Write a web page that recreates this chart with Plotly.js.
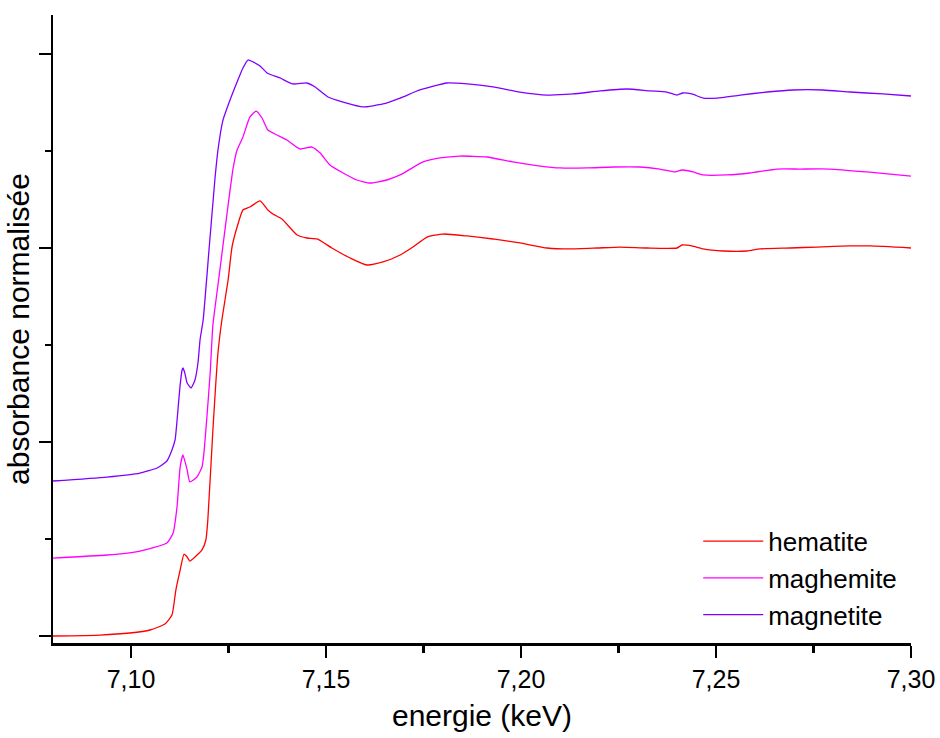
<!DOCTYPE html>
<html>
<head>
<meta charset="utf-8">
<script src="https://cdn.plot.ly/plotly-3.0.1.min.js"></script>
<style>html,body{margin:0;padding:0;background:#fff;}#chart{width:940px;height:738px;}</style>
</head>
<body>
<div id="chart"></div>
<script>
// Energy (keV) and normalised absorbance (offset curves)
const seriesNames = ["hematite", "maghemite", "magnetite"];
const seriesColors = ["#FF0000", "#FF00FF", "#8000FF"];

const hematiteX = [7.0800,7.0921,7.0997,7.1049,7.1087,7.1105,7.1115,7.1126,7.1136,7.1144,7.1151,7.1164,7.1182,7.1192,7.1197,7.1210,7.1223,7.1233,7.1249,7.1259,7.1272,7.1287,7.1305,7.1331,7.1351,7.1364,7.1387,7.1426,7.1451,7.1477,7.1515,7.1562,7.1605,7.1646,7.1690,7.1723,7.1759,7.1800,7.1862,7.1928,7.1997,7.2067,7.2126,7.2195,7.2254,7.2323,7.2400,7.2413,7.2438,7.2467,7.2518,7.2579,7.2613,7.2690,7.2759,7.2844,7.2895,7.3000];
const hematiteY = [0.000,0.010,0.031,0.062,0.124,0.216,0.474,0.680,0.845,0.814,0.773,0.814,0.887,0.990,1.196,2.124,2.918,3.258,3.670,4.010,4.216,4.392,4.423,4.485,4.392,4.351,4.299,4.134,4.103,4.093,4.000,3.897,3.825,3.856,3.928,4.010,4.113,4.144,4.124,4.093,4.052,4.000,3.990,4.000,4.010,4.000,4.000,4.031,4.021,3.990,3.969,3.969,3.990,4.000,4.010,4.021,4.021,4.000];

const maghemiteX = [7.0800,7.0938,7.1023,7.1092,7.1108,7.1118,7.1126,7.1133,7.1144,7.1151,7.1169,7.1182,7.1187,7.1195,7.1203,7.1210,7.1223,7.1236,7.1249,7.1262,7.1272,7.1287,7.1305,7.1321,7.1336,7.1351,7.1374,7.1400,7.1433,7.1464,7.1485,7.1510,7.1544,7.1579,7.1613,7.1656,7.1690,7.1749,7.1792,7.1844,7.1913,7.1979,7.2049,7.2100,7.2169,7.2236,7.2305,7.2356,7.2395,7.2413,7.2441,7.2467,7.2528,7.2587,7.2656,7.2715,7.2792,7.2887,7.3000];
const maghemiteY = [0.804,0.835,0.876,0.959,1.062,1.330,1.742,1.866,1.711,1.588,1.639,1.742,1.887,2.278,2.711,3.206,3.619,4.031,4.443,4.825,5.010,5.144,5.351,5.412,5.340,5.216,5.165,5.113,5.021,5.041,4.979,4.856,4.773,4.701,4.670,4.701,4.753,4.887,4.928,4.948,4.938,4.887,4.845,4.825,4.825,4.835,4.835,4.814,4.784,4.804,4.784,4.753,4.753,4.773,4.814,4.814,4.814,4.784,4.742];

const magnetiteX = [7.0800,7.0938,7.1023,7.1067,7.1092,7.1105,7.1113,7.1121,7.1126,7.1131,7.1133,7.1138,7.1144,7.1154,7.1164,7.1172,7.1177,7.1185,7.1200,7.1215,7.1223,7.1236,7.1254,7.1272,7.1287,7.1300,7.1313,7.1331,7.1349,7.1382,7.1415,7.1451,7.1472,7.1505,7.1544,7.1595,7.1646,7.1690,7.1741,7.1810,7.1862,7.1928,7.1997,7.2067,7.2133,7.2203,7.2272,7.2331,7.2374,7.2400,7.2415,7.2438,7.2467,7.2503,7.2562,7.2631,7.2697,7.2774,7.2844,7.2928,7.3000];
const magnetiteY = [1.598,1.639,1.680,1.732,1.804,1.918,2.021,2.361,2.588,2.742,2.763,2.711,2.608,2.557,2.639,2.825,3.052,3.258,3.979,4.701,5.010,5.320,5.526,5.711,5.856,5.938,5.918,5.876,5.804,5.753,5.691,5.701,5.660,5.557,5.505,5.454,5.485,5.546,5.629,5.701,5.691,5.660,5.608,5.577,5.588,5.619,5.639,5.619,5.608,5.577,5.598,5.588,5.546,5.546,5.577,5.608,5.629,5.629,5.608,5.588,5.567];

const xs = [hematiteX, maghemiteX, magnetiteX];
const ys = [hematiteY, maghemiteY, magnetiteY];

const traces = seriesNames.map((n, i) => ({
  type: "scatter", mode: "lines", name: n,
  x: xs[i], y: ys[i],
  line: {color: seriesColors[i], width: 1.3, shape: "spline", smoothing: 0.5}
}));

const FONT = "Arial, 'Liberation Sans', sans-serif";
const layout = {
  width: 940, height: 738,
  margin: {l: 53, r: 29, t: 15, b: 95},
  paper_bgcolor: "#ffffff", plot_bgcolor: "#ffffff",
  separators: ",.",
  font: {family: FONT, color: "#000000"},
  showlegend: true,
  legend: {
    x: 0.752, y: 0.1996, xanchor: "left", yanchor: "top",
    bgcolor: "rgba(0,0,0,0)", borderwidth: 0,
    font: {family: FONT, size: 26, color: "#000"},
    itemwidth: 60, tracegroupgap: 0
  },
  xaxis: {
    range: [7.08, 7.30], tick0: 7.10, dtick: 0.05, tickformat: ".2f",
    showgrid: false, zeroline: false,
    showline: true, linecolor: "#000", linewidth: 2.5,
    ticks: "outside", ticklen: 12, tickwidth: 2.5, tickcolor: "#000",
    minor: {dtick: 0.025, tick0: 7.10, ticks: "outside", ticklen: 7, tickwidth: 2.5, tickcolor: "#000", showgrid: false},
    tickfont: {family: FONT, size: 25, color: "#000"},
    title: {text: "energie (keV)", font: {family: FONT, size: 30, color: "#000"}, standoff: 14}
  },
  yaxis: {
    range: [-0.072, 6.402], tick0: 0, dtick: 2,
    showgrid: false, zeroline: false, showticklabels: false,
    showline: true, linecolor: "#000", linewidth: 2.5,
    ticks: "outside", ticklen: 12, tickwidth: 2.5, tickcolor: "#000",
    minor: {dtick: 1, tick0: 0, ticks: "outside", ticklen: 6, tickwidth: 2.5, tickcolor: "#000", showgrid: false},
    title: {text: "absorbance normalisée", font: {family: FONT, size: 30, color: "#000"}, standoff: 0}
  }
};

Plotly.newPlot("chart", traces, layout, {displayModeBar: false, staticPlot: true});
</script>
</body>
</html>
